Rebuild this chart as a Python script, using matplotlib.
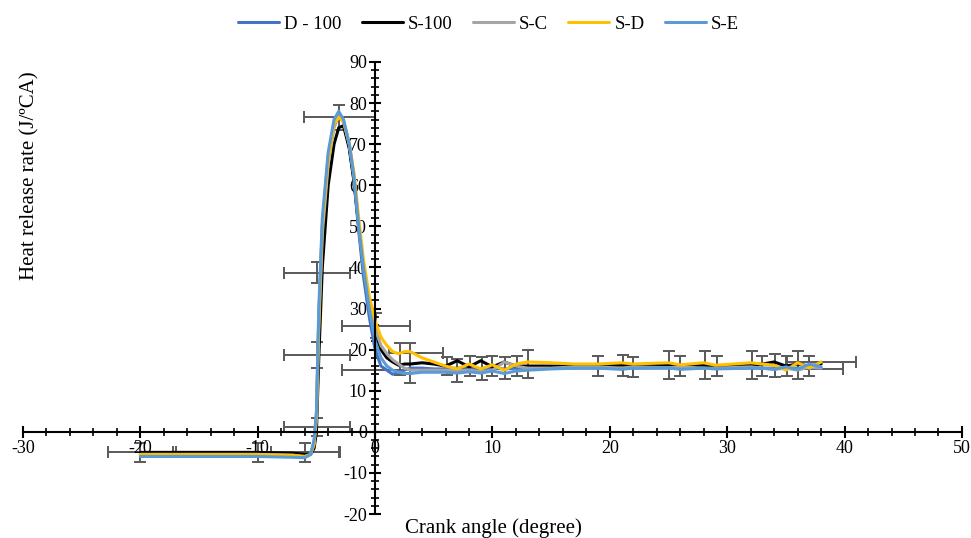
import numpy as np
import matplotlib.pyplot as plt
from matplotlib.ticker import MultipleLocator

plt.rcParams['font.family'] = ['Liberation Serif', 'DejaVu Serif']
plt.rcParams['axes.unicode_minus'] = False

# Crank angle points (degree)
crank = [-20, -15, -10, -7, -6,
         -5.5, -5.2, -5, -4.8, -4.5,
         -4, -3.5, -3.1, -2.7, -2.2, -1.8, -1.4,
         -1, -0.5, 0, 0.5, 1, 1.5, 2, 2.5, 3,
         4, 5, 6, 7, 8, 9, 10, 11, 12, 13,
         15, 17, 19, 21, 22,
         25, 26, 28, 29, 32,
         33, 34, 35, 36, 37, 38]

# Heat release rate (J/ºCA)
d100 = [-5.8, -5.8, -5.8, -6, -6.2,
        -5.5, -2.5, 4, 28, 50,
        67, 75, 77.5, 75.5, 69, 61, 49,
        38, 28, 20, 16, 15, 14, 14.5, 15, 15.5,
        15.5, 15.3, 15.3, 15.5, 15.5, 15.3, 15.5, 15.3, 15.5, 15.3,
        15.5, 15.5, 15.5, 15.5, 15.5,
        15.5, 15.5, 15.5, 15.5, 15.5,
        15.5, 15.5, 15.5, 15.5, 15.5, 15.5]
s100 = [-5, -5, -5, -5.2, -5.5,
        -5.5, -4, 0, 18, 40,
        60, 70, 74, 74.5, 69, 61, 50,
        40, 31, 24, 20, 18, 17, 16.2, 16.5, 16.5,
        16.8, 16.5, 16, 17.3, 15.8, 17.3, 15.8, 17, 16, 16,
        16, 16, 16, 16.2, 16.2,
        16.2, 16, 16.2, 16, 16.2,
        16.5, 17, 16, 16.5, 16, 16.5]
sc = [-5.5, -5.5, -5.5, -5.7, -6,
      -5.5, -3, 3, 25, 48,
      65, 74, 77, 76, 70, 62, 50,
      40, 31, 25, 21, 19, 17.5, 16.5, 15.5, 15,
      15, 15, 15, 14.8, 15, 14.6, 15, 17, 16, 15.5,
      15.5, 15.8, 15.8, 15.5, 15.8,
      15.6, 15.8, 15.5, 15.5, 15.8,
      15.5, 15.2, 15.5, 15, 15.8, 15.5]
sd = [-5.5, -5.5, -5.5, -5.7, -6,
      -5.5, -3, 4, 27, 50,
      66, 75, 76.5, 75.5, 70, 63, 52,
      42, 33, 27, 23, 21, 19.5, 19, 19.5, 19.5,
      18, 17, 16, 15.3, 16.5, 15.3, 16.3, 15, 16.5, 17,
      16.8, 16.5, 16.5, 16.8, 16.5,
      16.8, 16.3, 16.8, 16.2, 16.8,
      16.5, 16.2, 15, 16.8, 15.5, 17]
se = [-6, -6, -6, -6.2, -6.3,
      -5.5, -2, 5, 30, 52,
      68, 76, 78, 76, 70, 62, 50,
      40, 30, 22, 18, 16, 15, 14.5, 14.2, 14.2,
      14.5, 14.5, 14.5, 14.3, 14.6, 14.3, 14.8, 14.2, 14.8, 15,
      15.3, 15.5, 15.5, 15.2, 15.5,
      15.6, 15.2, 15.5, 15.3, 15.5,
      15.5, 15.2, 15.8, 15.2, 16.5, 15.8]

names = ['D - 100', 'S-100', 'S-C', 'S-D', 'S-E']
colors = ['#4472C4', '#000000', '#A5A5A5', '#FFC000', '#5B9BD5']
series = [d100, s100, sc, sd, se]

# error bars (x, y, x error, y error)
err_x = [-20, -10, -6, -3.05, -4.95, -4.95, -4.95, 0.1, 0.1, 3.5,
         2.1, 3, 6.1, 7, 8.1, 9.1, 10, 11.1, 12.1, 13, 19, 21.1, 22,
         25, 26, 28.1, 29.1, 32.1, 33, 34.1, 35.1, 36, 37, 38, 37]
err_y = [-5, -5, -5, 76.5, 38.7, 18.7, 1.2, 25.8, 15, 19.3,
         17.8, 16.8, 16.1, 14.9, 16, 15.5, 16, 15.5, 16, 16.5, 16, 16.2, 15.8,
         16.3, 16, 16.3, 16, 16.3, 16, 16.2, 16, 16.3, 16, 17, 15.2]
err_xe = [2.8, 7, 2.9, 3.05, 2.85, 2.85, 2.85, 2.9, 2.9, 2.3,
          0, 0, 0, 0, 0, 0, 0, 0, 0, 0, 0, 0, 0,
          0, 0, 0, 0, 0, 0, 0, 0, 0, 0, 3, 2.9]
err_ye = [2.4, 2.4, 2.4, 3, 2.6, 3.2, 2.2, 3, 0, 0,
          3.9, 4.8, 2.2, 2.7, 2.5, 2.8, 2.5, 2.7, 2.5, 3.5, 2.5, 2.6, 2.4,
          3.4, 2.4, 3.4, 2.4, 3.4, 2.5, 2.8, 2.4, 3.4, 2.5, 0, 0]

fig = plt.figure(figsize=(9.71, 5.38), dpi=100)
ax = fig.add_axes([0.0237, 0.0446, 0.967, 0.8402])

ax.errorbar(err_x, err_y, xerr=err_xe, yerr=err_ye, fmt='none',
            ecolor='#595959', elinewidth=1.4, capsize=4, capthick=1.4, zorder=1)

for y, name, c in zip(series, names, colors):
    ax.plot(crank, y, color=c, lw=2.2, label=name, zorder=2,
            solid_joinstyle='round', solid_capstyle='round')

ax.set_xlim(-30, 50)
ax.set_ylim(-20, 90)
ax.spines['left'].set_position(('data', 0))
ax.spines['bottom'].set_position(('data', 0))
ax.spines['right'].set_visible(False)
ax.spines['top'].set_visible(False)
for s in ['left', 'bottom']:
    ax.spines[s].set_linewidth(1.5)

ax.xaxis.set_major_locator(MultipleLocator(10))
ax.xaxis.set_minor_locator(MultipleLocator(2))
ax.yaxis.set_major_locator(MultipleLocator(10))
ax.yaxis.set_minor_locator(MultipleLocator(2))
ax.tick_params(which='major', direction='inout', length=8, width=1.5,
               labelsize=13, pad=2)
ax.tick_params(which='minor', direction='inout', length=6, width=1.2)

fig.text(30 / 971, 1 - 176 / 538, 'Heat release rate (J/ºCA)', rotation=90,
         ha='center', va='center', fontsize=15)
fig.text(493 / 971, 1 - 533 / 538, 'Crank angle (degree)',
         ha='center', va='baseline', fontsize=15)

fig.legend(loc='upper center', bbox_to_anchor=(0.503, 0.992), ncol=5,
           frameon=False, fontsize=13.5, handlelength=2.2, columnspacing=1.07,
           handletextpad=0.27, borderaxespad=0.2)

fig.savefig('out.png', dpi=100)
